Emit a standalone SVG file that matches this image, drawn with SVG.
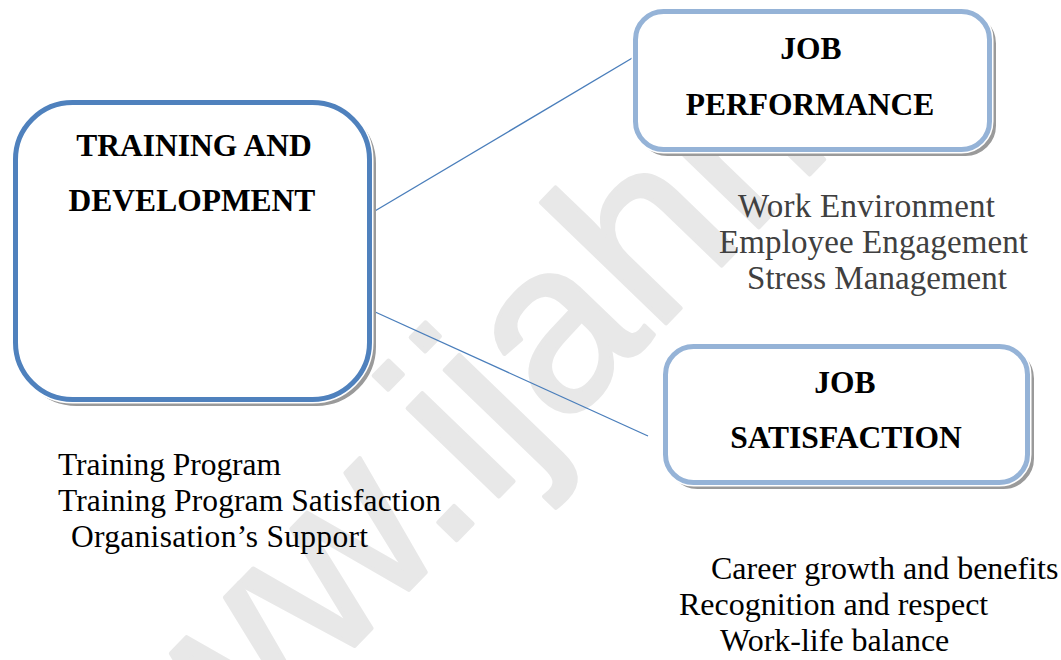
<svg xmlns="http://www.w3.org/2000/svg" width="1061" height="660" viewBox="0 0 1061 660">
  <style>
    .shadow { fill: none; stroke: #9a9a9a; stroke-width: 5; }
    .halo { fill: #ffffff; stroke: #ffffff; stroke-width: 8; }
    .box-main { fill: #ffffff; stroke: #4f81bd; stroke-width: 5; }
    .box-out { fill: #ffffff; stroke: #95b3d7; stroke-width: 5; }
    .title { font-family: "Liberation Serif", "Times New Roman", serif; font-weight: bold; font-size: 31.5px; fill: #000000; text-anchor: middle; }
    .item { font-family: "Liberation Serif", "Times New Roman", serif; font-size: 32px; fill: #000000; }
    .item-grey { fill: #404040; font-size: 33px; }
    .item-left { font-size: 31.5px; }
    .link { stroke: #4a7ebb; stroke-width: 1.3; fill: none; }
    .mark { font-family: "Liberation Sans", Arial, sans-serif; font-size: 240px; fill: #e8e8e8; stroke: #e8e8e8; stroke-width: 4; stroke-linejoin: round; }
  </style>

  <rect width="1061" height="660" fill="#ffffff"/>

  <!-- background watermark -->
  <g id="watermark">
    <text class="mark" x="-586" y="0" transform="translate(496.5,499) rotate(-46)">www.ijahm</text>
  </g>

  <!-- connectors -->
  <g id="connectors">
    <line class="link" x1="358" y1="221" x2="634" y2="57"/>
    <line class="link" x1="373" y1="311" x2="648" y2="436"/>
  </g>

  <g id="training-development">
    <rect class="shadow" x="19.5" y="106.5" width="354" height="297" rx="57"/>
    <rect class="halo" x="15.5" y="102.5" width="354" height="297" rx="57"/>
    <rect class="box-main" x="15.5" y="102.5" width="354" height="297" rx="57"/>
    <text class="title" x="194" y="156">TRAINING AND</text>
    <text class="title" x="192" y="211">DEVELOPMENT</text>
  </g>

  <g id="job-performance">
    <rect class="shadow" x="639.5" y="15.5" width="354" height="138" rx="28"/>
    <rect class="halo" x="635.5" y="11.5" width="354" height="138" rx="28"/>
    <rect class="box-out" x="635.5" y="11.5" width="354" height="138" rx="28"/>
    <text class="title" x="811" y="59">JOB</text>
    <text class="title" x="810" y="115">PERFORMANCE</text>
  </g>

  <g id="job-satisfaction">
    <rect class="shadow" x="669.5" y="350.5" width="362" height="136" rx="28"/>
    <rect class="halo" x="665.5" y="346.5" width="362" height="136" rx="28"/>
    <rect class="box-out" x="665.5" y="346.5" width="362" height="136" rx="28"/>
    <text class="title" x="845" y="393">JOB</text>
    <text class="title" x="846" y="448">SATISFACTION</text>
  </g>

  <!-- factor lists -->
  <g id="training-factors">
    <text class="item item-left" x="58" y="475" textLength="223" lengthAdjust="spacing">Training Program</text>
    <text class="item item-left" x="58" y="511" textLength="383" lengthAdjust="spacing">Training Program Satisfaction</text>
    <text class="item item-left" x="71" y="547" textLength="297" lengthAdjust="spacing">Organisation’s Support</text>
  </g>

  <g id="performance-factors">
    <text class="item item-grey" x="738" y="217" textLength="257" lengthAdjust="spacing">Work Environment</text>
    <text class="item item-grey" x="719" y="253" textLength="309" lengthAdjust="spacing">Employee Engagement</text>
    <text class="item item-grey" x="747" y="289" textLength="260" lengthAdjust="spacing">Stress Management</text>
  </g>

  <g id="satisfaction-factors">
    <text class="item" x="711" y="579">Career growth and benefits</text>
    <text class="item" x="679" y="615">Recognition and respect</text>
    <text class="item" x="720" y="651">Work-life balance</text>
  </g>
</svg>
